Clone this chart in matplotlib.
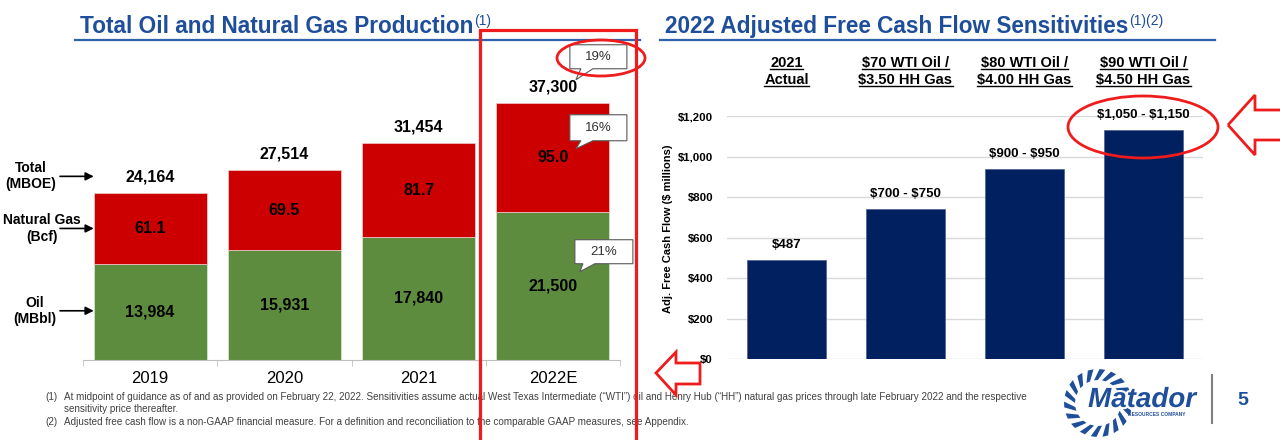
import matplotlib
matplotlib.use('Agg')
import numpy as np
import matplotlib.pyplot as plt
import matplotlib.transforms as mtransforms
import matplotlib.patheffects as pe
from matplotlib.patches import Polygon, Ellipse, Rectangle
from matplotlib.lines import Line2D

plt.rcParams['font.family'] = 'Liberation Sans'

# ---- data ----
years = ['2019', '2020', '2021', '2022E']
oil_mbbl = [13984, 15931, 17840, 21500]
gas_bcf = [61.1, 69.5, 81.7, 95.0]
total_mboe = [24164, 27514, 31454, 37300]

case_line1 = ['2021', '$70 WTI Oil /', '$80 WTI Oil /', '$90 WTI Oil /']
case_line2 = ['Actual', '$3.50 HH Gas', '$4.00 HH Gas', '$4.50 HH Gas']
fcf_values = [487, 740, 940, 1130]
fcf_labels = ['$487', '$700 - $750', '$900 - $950', '$1,050 - $1,150']
fcf_ticks = [0, 200, 400, 600, 800, 1000, 1200]

footnotes = [
    ('(1)', 'At midpoint of guidance as of and as provided on February 22, 2022. Sensitivities assume actual West Texas '
            'Intermediate (\u201cWTI\u201d) oil and Henry Hub (\u201cHH\u201d) natural gas prices through late February 2022 and the respective'),
    ('', 'sensitivity price thereafter.'),
    ('(2)', 'Adjusted free cash flow is a non-GAAP financial measure. For a definition and reconciliation to the comparable '
            'GAAP measures, see Appendix.'),
]

# ---- styles ----
BLUE = '#1f4e9a'
RED = '#cc0000'
GREEN = '#5e8c3f'
NAVY = '#00205f'
MARK = '#ee1c1c'

W, H = 1280, 440


def fp(x, y):
    # pixel position (top-left origin) -> figure fraction
    return (x / W, 1 - y / H)


def to_px(ax, x, y):
    d = ax.transData.transform((x, y))
    return d[0], H - d[1]


fig = plt.figure(figsize=(12.8, 4.4), dpi=100)

# ================= left: production =================
ax1 = fig.add_axes([83 / W, 1 - 360 / H, (620 - 83) / W, 300 / H])
x = np.arange(len(years))
oil = np.array(oil_mbbl)
gas_mboe = np.array(total_mboe) - oil
ax1.bar(x, oil, width=0.84, color=GREEN, edgecolor='#dfe8d8', linewidth=0.5)
ax1.bar(x, gas_mboe, bottom=oil, width=0.84, color=RED, edgecolor='#f0d0d0', linewidth=0.5)
ax1.set_xlim(-0.5, 3.5)
ax1.set_ylim(0, 43500)
ax1.patch.set_alpha(0)
for s in ['top', 'left', 'right']:
    ax1.spines[s].set_visible(False)
ax1.spines['bottom'].set_color('#bfbfbf')
ax1.set_yticks([])
ax1.set_xticks(x, years, fontsize=12)
ax1.set_xticks(np.arange(-0.5, 4, 1), minor=True)
ax1.tick_params(axis='x', which='major', length=0, pad=8)
ax1.tick_params(axis='x', which='minor', length=4, color='#bfbfbf')

for i in range(len(years)):
    ax1.text(i, oil[i] / 2, f'{oil_mbbl[i]:,}', ha='center', va='center',
             fontsize=11.5, fontweight='bold')
    ax1.text(i, oil[i] + gas_mboe[i] / 2, f'{gas_bcf[i]:.1f}', ha='center', va='center',
             fontsize=11.5, fontweight='bold')
    ax1.annotate(f'{total_mboe[i]:,}', (i, total_mboe[i]), xytext=(0, 11.5),
                 textcoords='offset points', ha='center', va='center',
                 fontsize=11.5, fontweight='bold')

# side labels with arrows (anchored on the 2019 bar)
_, y_tot = to_px(ax1, 0, total_mboe[0])
_, y_gas = to_px(ax1, 0, oil[0] + gas_mboe[0] / 2)
_, y_oil = to_px(ax1, 0, oil[0] / 2)
bar_left = to_px(ax1, -0.42, 0)[0]
for lab, xc, yy in [('Total\n(MBOE)', 31, y_tot - 17), ('Natural Gas\n(Bcf)', 42, y_gas),
                    ('Oil\n(MBbl)', 35, y_oil - 1)]:
    fig.text(*fp(xc, yy), lab, ha='center', va='center', fontsize=10,
             fontweight='bold', linespacing=1.2)
    ax1.annotate('', xy=fp(bar_left, yy), xycoords='figure fraction',
                 xytext=fp(60, yy), textcoords='figure fraction',
                 arrowprops=dict(arrowstyle='-|>', color='black', lw=1.2,
                                 mutation_scale=12, shrinkA=0, shrinkB=0),
                 annotation_clip=False)


# growth callouts on 2022E
def callout(cx, cy, box, tail, tip, text):
    x0, x1, y0, y1 = cx + box[0], cx + box[1], cy + box[2], cy + box[3]
    pts = [(x0, y0), (x1, y0), (x1, y1), (cx + tail[1], y1), (cx + tip[0], cy + tip[1]),
           (cx + tail[0], y1), (x0, y1)]
    fig.add_artist(Polygon([fp(*p) for p in pts], closed=True, facecolor='white',
                           edgecolor='#595959', linewidth=0.8, transform=fig.transFigure, zorder=5))
    fig.text(*fp((x0 + x1) / 2, (y0 + y1) / 2), text, ha='center', va='center',
             fontsize=9.5, color='#333333', zorder=6)


cx, top_px = to_px(ax1, 3, total_mboe[3])
_, oil_top_px = to_px(ax1, 3, oil_mbbl[3])
g_tot = round((total_mboe[3] / total_mboe[2] - 1) * 100)
g_gas = round((gas_bcf[3] / gas_bcf[2] - 1) * 100)
g_oil = round((oil_mbbl[3] / oil_mbbl[2] - 1) * 100)
callout(cx, top_px, (17, 74, -58, -34), (28, 40), (23, -23), f'{g_tot}%')
callout(cx, top_px, (17, 74, 12, 38), (28, 40), (23, 46), f'{g_gas}%')
callout(cx, oil_top_px, (22, 80, 28, 52), (30, 42), (27, 60), f'{g_oil}%')

# ================= right: free cash flow =================
ax2 = fig.add_axes([727 / W, 1 - 359 / H, (1203 - 727) / W, (359 - 116) / H])
ax2.bar(x, fcf_values, width=0.66, color=NAVY, edgecolor='#4a5f8f', linewidth=0.5, zorder=2)
ax2.set_xlim(-0.5, 3.5)
ax2.set_ylim(0, 1200)
ax2.set_yticks(fcf_ticks, [f'${v:,}' for v in fcf_ticks], fontsize=8.2, fontweight='bold')
ax2.set_xticks([])
ax2.tick_params(axis='y', length=0, pad=10)
ax2.grid(axis='y', color='#d9d9d9', linewidth=1)
ax2.set_axisbelow(True)
for s in ax2.spines.values():
    s.set_visible(False)
for i, lab in enumerate(fcf_labels):
    ax2.annotate(lab, (i, fcf_values[i]), xytext=(0, 10.8), textcoords='offset points',
                 ha='center', va='center', fontsize=9.5, fontweight='bold', parse_math=False)

fig.text(*fp(668, 229), 'Adj. Free Cash Flow ($ millions)', rotation=90, ha='center',
         va='center', fontsize=8, fontweight='bold', parse_math=False)

blend = mtransforms.blended_transform_factory(ax2.transData, fig.transFigure)
headers = []
for i in range(len(case_line1)):
    for lab, yy in [(case_line1[i], 63), (case_line2[i], 80)]:
        headers.append(ax2.text(i, 1 - yy / H, lab, transform=blend, ha='center', va='center',
                                fontsize=10.5, fontweight='bold', parse_math=False))

# ================= titles =================
t1 = fig.text(*fp(80, 33), 'Total Oil and Natural Gas Production', fontsize=16.3,
              fontweight='bold', color=BLUE, va='baseline')
t2 = fig.text(*fp(665, 33), '2022 Adjusted Free Cash Flow Sensitivities', fontsize=16.3,
              fontweight='bold', color=BLUE, va='baseline')
for x0, x1 in [(75, 640), (660, 1215)]:
    fig.add_artist(Line2D([x0 / W, x1 / W], [1 - 40.5 / H] * 2, color='#2e62ad', lw=1.6,
                          transform=fig.transFigure))

# ================= footnotes =================
foot_texts = []
for k, (num, txt) in enumerate(footnotes):
    yy = [397, 409, 422][k]
    if num:
        foot_texts.append(fig.text(*fp(45, yy), num, fontsize=6.5, color='#404040', va='center'))
    foot_texts.append(fig.text(*fp(64, yy), txt, fontsize=6.5, color='#404040', va='center'))

# ================= logo + page number =================
gcx, gcy = 1098, 403
for a in np.linspace(0, 2 * np.pi, 18, endpoint=False):
    r0, r1, w, sk = 23, 34, 0.17, 0.22
    pts = [(gcx + r0 * np.cos(a), gcy + r0 * np.sin(a)),
           (gcx + r1 * np.cos(a + sk), gcy + r1 * np.sin(a + sk)),
           (gcx + r1 * np.cos(a + sk + w), gcy + r1 * np.sin(a + sk + w)),
           (gcx + r0 * np.cos(a + w), gcy + r0 * np.sin(a + w))]
    fig.add_artist(Polygon([fp(*p) for p in pts], closed=True, facecolor=BLUE,
                           edgecolor='none', transform=fig.transFigure))
fig.text(*fp(1142, 400), 'Matador', ha='center', va='center', fontsize=20, fontweight='bold',
         fontstyle='italic', color=BLUE,
         path_effects=[pe.withStroke(linewidth=3, foreground='white')])
fig.text(*fp(1157, 414), 'RESOURCES COMPANY', ha='center', va='center', fontsize=3.5,
         fontweight='bold', color=BLUE)
fig.add_artist(Line2D([1212 / W] * 2, [1 - 375 / H, 1 - 423 / H], color='#808080', lw=1.5,
                      transform=fig.transFigure))
fig.text(*fp(1243, 400), '5', ha='center', va='center', fontsize=14, fontweight='bold', color=BLUE)

# ================= red markup =================
fig.add_artist(Rectangle(fp(480, 445), 156 / W, 415 / H, fill=False, edgecolor=MARK, lw=2.3,
                         transform=fig.transFigure, zorder=10))
for (ex, ey, ew, eh) in [(601, 58, 88, 36), (1143, 127, 150, 62)]:
    fig.add_artist(Ellipse(fp(ex, ey), ew / W, eh / H, fill=False, edgecolor=MARK, lw=2,
                           transform=fig.transFigure, zorder=10))
for arrow in [[(1228, 125), (1255, 95), (1255, 110), (1283, 110), (1283, 140), (1255, 140), (1255, 155)],
              [(656, 373), (676, 352), (676, 363), (700, 363), (700, 384), (676, 384), (676, 395)]]:
    fig.add_artist(Polygon([fp(*p) for p in arrow], closed=True, fill=False, edgecolor=MARK,
                           lw=2, transform=fig.transFigure, zorder=10))

# ---- post-layout: superscripts, header underlines, footnote fitting ----
fig.canvas.draw()
r = fig.canvas.get_renderer()
for t, sup in [(t1, '(1)'), (t2, '(1)(2)')]:
    bb = t.get_window_extent(r)
    fig.text((bb.x1 + 1) / W, 1 - 25 / H, sup, fontsize=10, fontweight='normal', color=BLUE,
             va='baseline')
for t in headers:
    bb = t.get_window_extent(r)
    fig.add_artist(Line2D([bb.x0 / W, bb.x1 / W], [(bb.y0 + 1) / H] * 2, color='black', lw=1,
                          transform=fig.transFigure))
wide = foot_texts[1].get_window_extent(r).width
for t in foot_texts:
    t.set_fontsize(6.5 * (1030 - 64) / wide)

fig.savefig('out.png', dpi=100)
